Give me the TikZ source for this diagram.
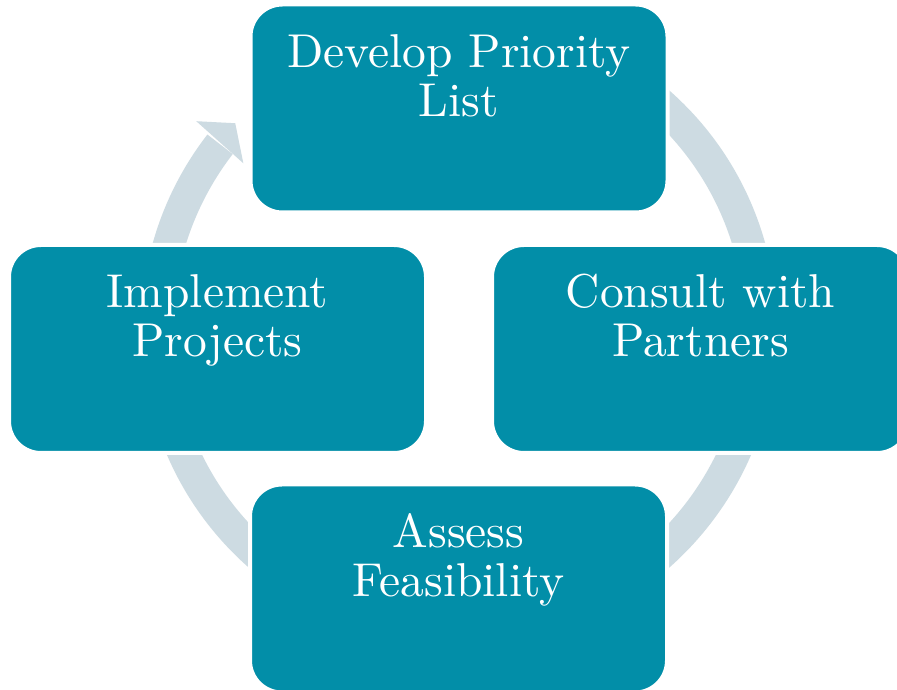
\documentclass[tikz,border=0pt]{standalone}
\usepackage{fontspec}
\newfontfamily\stagefont{lmroman10-regular.otf}
\definecolor{tealbox}{RGB}{2,142,168}
\definecolor{ringc}{RGB}{205,219,226}
\tikzset{
  stage/.style={fill=tealbox, draw=white, line width=4pt, rounded corners=32pt,
    inner sep=0pt, text=white, font=\stagefont\fontsize{47.5}{49}\selectfont},
  ringfill/.style={fill=ringc, draw=none}
}
\newcommand\stagetext[1]{\parbox[c][208pt][t]{417pt}{\centering\rule{0pt}{63pt}#1}}
\begin{document}
\begin{tikzpicture}[x=1pt,y=1pt]
\clip (0,0) rectangle (897,690);
\fill[white] (0,0) rectangle (897,690);
\begin{scope}[shift={(459,361)}]
  \fill[ringfill] (142.3:318) arc[start angle=142.3,end angle=460,radius=318]
    -- (460:286) arc[start angle=460,end angle=142.3,radius=286] -- cycle;
  \fill[ringfill] (141.66:335) -- (137.4:304) -- (142.46:272) -- cycle;
\end{scope}
\node[stage] (develop) at (459,581.5) {\stagetext{Develop Priority\\List}};
\node[stage] (consult) at (700.5,341) {\stagetext{Consult with\\Partners}};
\node[stage] (assess) at (458.5,101.5) {\stagetext{Assess\\Feasibility}};
\node[stage] (implement) at (217.5,341) {\stagetext{Implement\\Projects}};
\end{tikzpicture}
\end{document}
